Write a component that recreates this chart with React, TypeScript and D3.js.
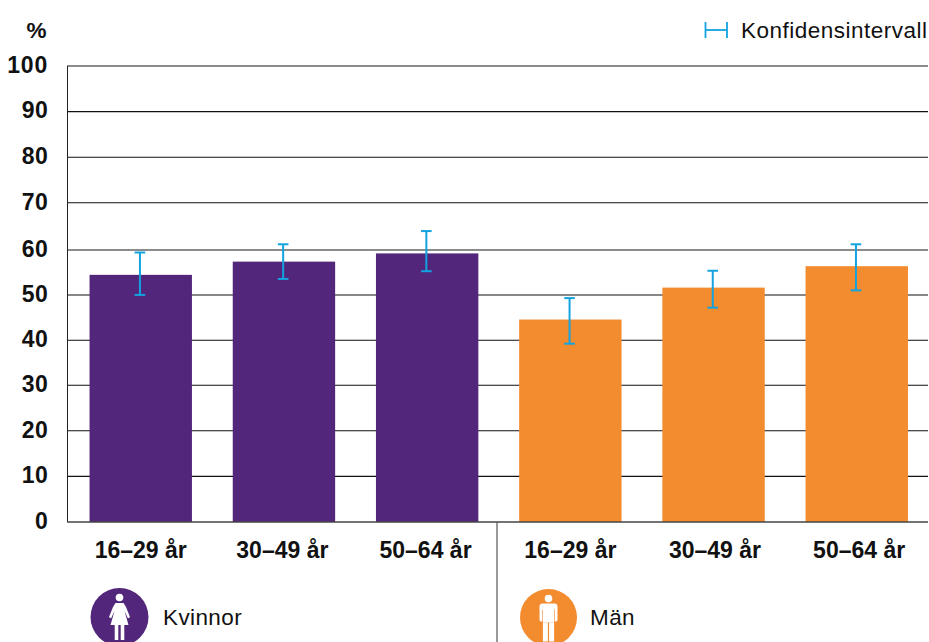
import React from "react";
import * as d3 from "d3";

const ageGroups = ["16–29 år", "30–49 år", "50–64 år", "16–29 år", "30–49 år", "50–64 år"];
const seriesKeys = ["k0", "k1", "k2", "m0", "m1", "m2"];
const values = [54.2, 57.1, 58.9, 44.4, 51.4, 56.1];
const ciHigh = [59.1, 60.9, 63.8, 49.1, 55.1, 60.9];
const ciLow = [49.8, 53.3, 55.0, 39.1, 47.0, 50.8];
const barColors = ["#52267a", "#52267a", "#52267a", "#f38b2f", "#f38b2f", "#f38b2f"];
const yTicks = [0, 10, 20, 30, 40, 50, 60, 70, 80, 90, 100];

const W = 929, H = 642;
const PURPLE = "#52267a", ORANGE = "#f38b2f", BLUE = "#12a3e0", TXT = "#111";
const FONT = "'Liberation Sans', Arial, sans-serif";

const Woman = ({ cx, cy }: { cx: number; cy: number }) => (
  <g transform={`translate(${cx},${cy})`} fill="#fff">
    <circle cx={0} cy={-19.5} r={3.8} />
    <path d="M-4,-14 L4,-14 L6.5,-10 L10.5,0 L8.5,1.5 L5,-6 L9,8 L-9,8 L-5,-6 L-8.5,1.5 L-10.5,0 L-6.5,-10 Z" />
    <rect x={-4.8} y={8} width={3.6} height={15} />
    <rect x={1.2} y={8} width={3.6} height={15} />
  </g>
);

const Man = ({ cx, cy }: { cx: number; cy: number }) => (
  <g transform={`translate(${cx},${cy})`} fill="#fff">
    <circle cx={0} cy={-19} r={3.8} />
    <path d="M-6,-14 L6,-14 Q9,-14 9,-11 L9,2 Q9,4 7.6,4 L6.2,4 L6.2,-8 L5.6,-8 L5.6,5 L-5.6,5 L-5.6,-8 L-6.2,-8 L-6.2,4 L-7.6,4 Q-9,4 -9,2 L-9,-11 Q-9,-14 -6,-14 Z" />
    <rect x={-5.6} y={5} width={5} height={19} />
    <rect x={0.6} y={5} width={5} height={19} />
  </g>
);

export default function App() {
  const y = d3.scaleLinear().domain([0, 100]).range([522, 66]);
  const x = d3.scaleBand<string>().domain(seriesKeys).range([69.5, 928]).paddingInner(0.285).paddingOuter(0.14);
  const capW = 5.3;
  const nudge = (t: number) => (t === 60 ? 1.6 : t === 50 ? 1 : t === 40 ? 0.6 : 0);
  // the reference's group labels do not sit exactly on the bar centres
  const labelShift = (i: number) => (i === 1 || i === 2 ? -1.6 : i === 4 ? 1.4 : i === 5 ? 2.4 : 0);

  return (
    <svg width={W} height={H} viewBox={`0 0 ${W} ${H}`}
      style={{ position: "absolute", left: 0, top: 0, background: "#fff" }} fontFamily={FONT}>
      {yTicks.map((t) => (
        <g key={t}>
          {t > 0 && (
            <line x1={67} x2={928} y1={y(t) + nudge(t)} y2={y(t) + nudge(t)} stroke={t === 100 || t === 60 ? "#666" : "#111"} strokeWidth={t === 100 || t === 60 ? 1.4 : 1.1} />
          )}
          <text x={48} y={y(t) + nudge(t) - 1.2} dy="0.35em" textAnchor="end" fontSize={23} fontWeight={700} fill={TXT} style={{ letterSpacing: t === 100 ? 0.8 : 0.3 }}>{t}</text>
        </g>
      ))}
      <text x={46.5} y={30} dy="0.35em" textAnchor="end" fontSize={22.5} fontWeight={700} fill={TXT}>%</text>

      {seriesKeys.map((k, i) => (
        <rect key={k} x={x(k)!} y={y(values[i])} width={x.bandwidth()} height={y(0) - y(values[i])} fill={barColors[i]} />
      ))}

      <line x1={67.5} x2={67.5} y1={66} y2={522} stroke="#222" strokeWidth={1} />
      <line x1={67} x2={928} y1={522} y2={522} stroke="#444" strokeWidth={1.3} />
      <line x1={497} x2={497} y1={522} y2={642} stroke="#555" strokeWidth={1.2} />

      {seriesKeys.map((k, i) => {
        const cx = x(k)! + x.bandwidth() / 2 - 0.8;
        return (
          <g key={k} stroke={BLUE} strokeWidth={2}>
            <line x1={cx} x2={cx} y1={y(ciHigh[i])} y2={y(ciLow[i])} />
            <line x1={cx - capW} x2={cx + capW} y1={y(ciHigh[i])} y2={y(ciHigh[i])} />
            <line x1={cx - capW} x2={cx + capW} y1={y(ciLow[i])} y2={y(ciLow[i])} />
          </g>
        );
      })}

      {seriesKeys.map((k, i) => (
        <text key={k} x={x(k)! + x.bandwidth() / 2 + labelShift(i)} y={550} dy="0.35em" textAnchor="middle" fontSize={23} fontWeight={700} fill={TXT}>
          {ageGroups[i]}
        </text>
      ))}

      <circle cx={119.5} cy={617} r={29} fill={PURPLE} />
      <Woman cx={119.5} cy={617} />
      <text x={163} y={617} dy="0.35em" fontSize={22.5} fill={TXT} style={{ letterSpacing: 0.4 }}>Kvinnor</text>

      <circle cx={548.5} cy={617.5} r={28.5} fill={ORANGE} />
      <Man cx={548.5} cy={617.5} />
      <text x={590} y={617} dy="0.35em" fontSize={22.5} fill={TXT} style={{ letterSpacing: 0.4 }}>Män</text>

      <g stroke={BLUE} strokeWidth={1.8}>
        <line x1={705.5} x2={727} y1={30} y2={30} />
        <line x1={705.5} x2={705.5} y1={22} y2={38} />
        <line x1={727} x2={727} y1={22} y2={38} />
      </g>
      <text x={741} y={30} dy="0.35em" fontSize={22.5} fill={TXT} style={{ letterSpacing: 0.5 }}>Konfidensintervall</text>
    </svg>
  );
}
